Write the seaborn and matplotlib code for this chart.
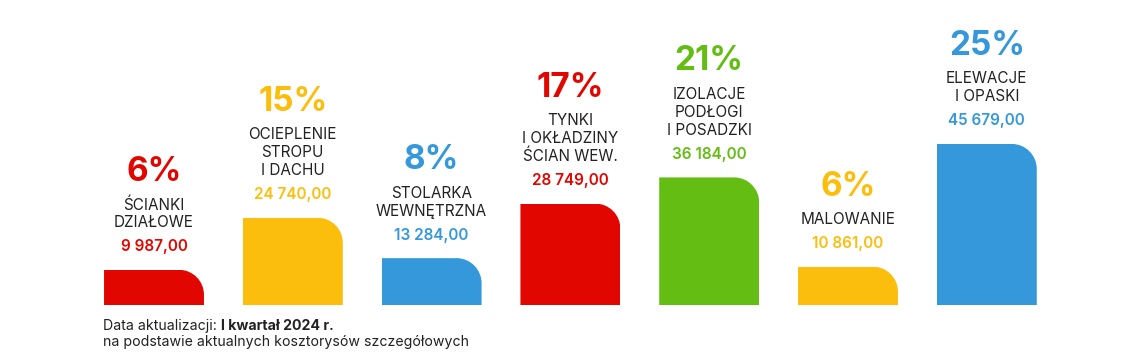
import matplotlib
matplotlib.use("Agg")
import matplotlib.pyplot as plt
import seaborn as sns
import pandas as pd
from matplotlib.path import Path
from matplotlib.patches import PathPatch

# data
categories = ["ŚCIANKI\nDZIAŁOWE", "OCIEPLENIE\nSTROPU\nI DACHU", "STOLARKA\nWEWNĘTRZNA",
              "TYNKI\nI OKŁADZINY\nŚCIAN WEW.", "IZOLACJE\nPODŁOGI\nI POSADZKI",
              "MALOWANIE", "ELEWACJE\nI OPASKI"]
values = [9987.00, 24740.00, 13284.00, 28749.00, 36184.00, 10861.00, 45679.00]
percents = [6, 15, 8, 17, 21, 6, 25]
colors = ["#e10600", "#fbbe0c", "#3498db", "#e10600", "#63bd13", "#fbbe0c", "#3498db"]

def fmt(v):
    s = f"{v:,.2f}"
    return s.replace(",", " ").replace(".", ",")

sns.set_style("white")
plt.rcParams['font.family'] = ['Inter', 'DejaVu Sans']
text_dark = "#222222"

W, H, DPI = 1140, 354, 100
fig = plt.figure(figsize=(W / DPI, H / DPI), dpi=DPI)
bottom_px = 305
ax = fig.add_axes([0, (H - bottom_px) / H, 1, bottom_px / H])

df = pd.DataFrame({"cat": categories, "val": values})
sns.barplot(data=df, x="cat", y="val", hue="cat", palette=colors, legend=False,
            width=0.72, saturation=1, ax=ax)

# pixel mapping
step = 138.8
first_center = 154
ax.set_xlim(-first_center / step, (W - first_center) / step)
ymax = 86500
ax.set_ylim(0, ymax)
ax.axis("off")

px_x = step            # pixels per x unit
px_y = bottom_px / ymax  # pixels per y unit

# round the top-right corner of each bar
r = 25
for p in ax.patches:
    x0, y0 = p.get_x(), p.get_y()
    w, h = p.get_width(), p.get_height()
    rx, ry = r / px_x, min(r / px_y, h)
    k = 0.5523
    verts = [(x0, y0), (x0, y0 + h), (x0 + w - rx, y0 + h),
             (x0 + w - rx + k * rx, y0 + h), (x0 + w, y0 + h - ry + k * ry), (x0 + w, y0 + h - ry),
             (x0 + w, y0), (x0, y0)]
    codes = [Path.MOVETO, Path.LINETO, Path.LINETO,
             Path.CURVE4, Path.CURVE4, Path.CURVE4,
             Path.LINETO, Path.CLOSEPOLY]
    clip = PathPatch(Path(verts, codes), transform=ax.transData, facecolor="none", edgecolor="none")
    ax.add_patch(clip)
    p.set_clip_path(clip)
    p.set_edgecolor("none")

# labels stacked above bars
for i, (cat, v, pc, c) in enumerate(zip(categories, values, percents, colors)):
    ax.annotate(fmt(v), (i, v), xytext=(0, 23), textcoords="offset pixels",
                ha="center", va="center", fontsize=11, color=c, fontweight="semibold")
    lines = cat.split("\n")
    n = len(lines)
    for j, line in enumerate(reversed(lines)):
        ax.annotate(line, (i, v), xytext=(0, 47 + 18 * j), textcoords="offset pixels",
                    ha="center", va="center", fontsize=11, color=text_dark)
    ax.annotate(f"{pc}%", (i, v), xytext=(0, 47 + 18 * (n - 1) + 33), textcoords="offset pixels",
                ha="center", va="center", fontsize=24, color=c, fontweight="bold")

# footer
fs = 10.2
t1 = fig.text(103 / W, 1 - 326 / H, "Data aktualizacji: ", fontsize=fs, color=text_dark,
              ha="left", va="center")
renderer = fig.canvas.get_renderer()
bb = t1.get_window_extent(renderer)
fig.text(bb.x1 / W, 1 - 326 / H, "I kwartał 2024 r.", fontsize=fs, color=text_dark,
         ha="left", va="center", fontweight="bold")
fig.text(103 / W, 1 - 342 / H, "na podstawie aktualnych kosztorysów szczegółowych", fontsize=fs,
         color=text_dark, ha="left", va="center")

fig.savefig("out.png", dpi=DPI)
